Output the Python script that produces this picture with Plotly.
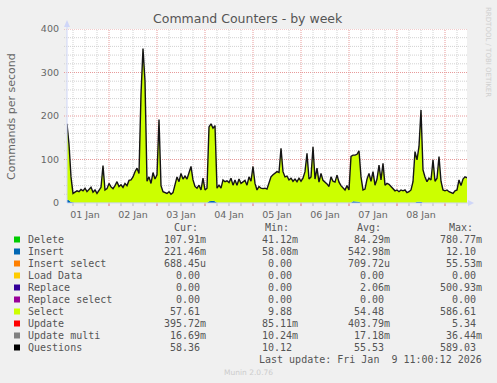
import plotly.graph_objects as go
import pandas as pd

# ---------------- data ----------------
start = "2026-01-01 03:00"
end = "2026-01-09 11:00"
times = pd.date_range(start, end, freq="1h")  # 201 hourly samples

questions = [
    182, 135, 60, 22, 25, 28, 26, 31, 28, 34,
    26, 30, 36, 25, 30, 22, 28, 36, 86, 30,
    33, 45, 37, 33, 40, 49, 38, 42, 36, 45,
    40, 52, 53, 60, 72, 80, 68, 250, 355, 280,
    50, 60, 45, 70, 55, 65, 192, 40, 26, 24,
    22, 26, 20, 24, 40, 60, 49, 68, 55, 62,
    55, 70, 84, 53, 38, 34, 41, 30, 57, 30,
    34, 175, 182, 172, 178, 34, 41, 34, 53, 49,
    51, 47, 57, 41, 53, 41, 55, 45, 48, 52,
    41, 60, 50, 84, 45, 30, 38, 34, 33, 34,
    32, 45, 60, 65, 68, 72, 70, 126, 72, 60,
    62, 53, 57, 50, 55, 49, 57, 50, 57, 72,
    114, 55, 60, 129, 55, 80, 48, 68, 52, 49,
    44, 38, 60, 50, 48, 64, 48, 40, 34, 30,
    40, 30, 107, 110, 110, 112, 120, 60, 30, 32,
    55, 68, 50, 72, 41, 55, 87, 53, 91, 41,
    45, 43, 38, 34, 28, 30, 26, 30, 28, 30,
    24, 26, 30, 49, 118, 99, 130, 214, 76, 60,
    49, 57, 53, 99, 50, 57, 107, 50, 30, 28,
    30, 26, 24, 22, 28, 30, 53, 40, 55, 60,
    58,
]

select = [
    173, 128, 56, 21, 24, 27, 25, 30, 27, 33,
    25, 29, 35, 24, 29, 21, 27, 35, 85, 29,
    32, 44, 36, 32, 39, 48, 37, 41, 35, 44,
    39, 51, 52, 59, 71, 79, 67, 249, 354, 279,
    49, 59, 44, 69, 54, 64, 191, 39, 25, 23,
    21, 25, 19, 23, 39, 59, 48, 67, 54, 61,
    54, 69, 83, 52, 37, 33, 40, 29, 56, 29,
    33, 170, 176, 166, 173, 33, 40, 33, 52, 48,
    50, 46, 56, 40, 52, 40, 54, 44, 47, 51,
    40, 59, 49, 83, 44, 29, 37, 33, 32, 33,
    31, 44, 59, 64, 67, 71, 69, 125, 71, 59,
    61, 52, 56, 49, 54, 48, 56, 49, 56, 71,
    113, 54, 59, 128, 54, 79, 47, 67, 51, 48,
    43, 37, 59, 49, 47, 63, 47, 39, 33, 29,
    39, 29, 106, 105, 105, 107, 116, 59, 29, 31,
    54, 67, 49, 71, 40, 54, 86, 52, 90, 40,
    44, 42, 37, 33, 27, 29, 25, 29, 27, 29,
    23, 25, 29, 48, 117, 95, 126, 210, 75, 59,
    48, 56, 52, 98, 49, 56, 106, 49, 29, 27,
    29, 25, 23, 21, 27, 29, 52, 39, 54, 59,
    57,
]

insert = [
    8, 6, 2, 0.4, 0.4, 0.4, 0.4, 0.4, 0.4, 0.4,
    0.4, 0.4, 0.4, 0.4, 0.4, 0.4, 0.4, 0.4, 0.4, 0.4,
    0.4, 0.4, 0.4, 0.4, 0.4, 0.4, 0.4, 0.4, 0.4, 0.4,
    0.4, 0.4, 0.4, 0.4, 0.4, 0.4, 0.4, 0.4, 0.4, 0.4,
    0.4, 0.4, 0.4, 0.4, 0.4, 0.4, 0.4, 0.4, 0.4, 0.4,
    0.4, 0.4, 0.4, 0.4, 0.4, 0.4, 0.4, 0.4, 0.4, 0.4,
    0.4, 0.4, 0.4, 0.4, 0.4, 0.4, 0.4, 0.4, 0.4, 0.4,
    0.4, 4, 5, 5, 4, 0.4, 0.4, 0.4, 0.4, 0.4,
    0.4, 0.4, 0.4, 0.4, 0.4, 0.4, 0.4, 0.4, 0.4, 0.4,
    0.4, 0.4, 0.4, 0.4, 0.4, 0.4, 0.4, 0.4, 0.4, 0.4,
    0.4, 0.4, 0.4, 0.4, 0.4, 0.4, 0.4, 0.4, 0.4, 0.4,
    0.4, 0.4, 0.4, 0.4, 0.4, 0.4, 0.4, 0.4, 0.4, 0.4,
    0.4, 0.4, 0.4, 0.4, 0.4, 0.4, 0.4, 0.4, 0.4, 0.4,
    0.4, 0.4, 0.4, 0.4, 0.4, 0.4, 0.4, 0.4, 0.4, 0.4,
    0.4, 0.4, 0.4, 4, 4, 4, 3, 0.4, 0.4, 0.4,
    0.4, 0.4, 0.4, 0.4, 0.4, 0.4, 0.4, 0.4, 0.4, 0.4,
    0.4, 0.4, 0.4, 0.4, 0.4, 0.4, 0.4, 0.4, 0.4, 0.4,
    0.4, 0.4, 0.4, 0.4, 0.4, 3, 3, 3, 0.4, 0.4,
    0.4, 0.4, 0.4, 0.4, 0.4, 0.4, 0.4, 0.4, 0.4, 0.4,
    0.4, 0.4, 0.4, 0.4, 0.4, 0.4, 0.4, 0.4, 0.4, 0.4,
    0.2,
]

delete = [0.08] * len(times)
update = [0.4] * len(times)
update_multi = [0.017] * len(times)
zeros = [0.0] * len(times)

series_names = ["Delete", "Insert", "Insert select", "Load Data", "Replace",
                "Replace select", "Select", "Update", "Update multi", "Questions"]
series_colors = ["#00CC00", "#0066B3", "#FF8000", "#FFCC00", "#330099",
                 "#990099", "#CCFF00", "#FF0000", "#808080", "#000000"]
stat_cur = ["107.91m", "221.46m", "688.45u", "0.00", "0.00", "0.00", "57.61", "395.72m", "16.69m", "58.36"]
stat_min = ["41.12m", "58.08m", "0.00", "0.00", "0.00", "0.00", "9.88", "85.11m", "10.24m", "10.12"]
stat_avg = ["84.29m", "542.98m", "709.72u", "0.00", "2.06m", "0.00", "54.48", "403.79m", "17.18m", "55.53"]
stat_max = ["780.77m", "12.10", "55.53m", "0.00", "500.93m", "0.00", "586.61", "5.34", "36.44m", "589.03"]

day_labels = ["01 Jan", "02 Jan", "03 Jan", "04 Jan", "05 Jan", "06 Jan", "07 Jan", "08 Jan"]
day_noons = pd.date_range("2026-01-01 12:00", periods=8, freq="D")
y_ticks = [0, 100, 200, 300, 400]

# ---------------- figure ----------------
W, H = 497, 383
L, R, T, B = 67, 30, 29, 180
PW, PH = W - L - R, H - T - B
FONT = "#666666"


def px(x):
    return (x - L) / PW


def py(y):
    return (H - B - y) / PH


stack_values = [delete, insert, zeros, zeros, zeros, zeros, select, update, update_multi]

fig = go.Figure()
for name, color, vals in zip(series_names[:-1], series_colors[:-1], stack_values):
    fig.add_trace(go.Scatter(
        x=times, y=vals, name=name, stackgroup="one", mode="lines",
        line=dict(width=0, color=color), fillcolor=color, hoverinfo="skip",
    ))
fig.add_trace(go.Scatter(
    x=times, y=questions, name="Questions", mode="lines",
    line=dict(width=1.4, color="#151515"), hoverinfo="skip",
))

shapes = []
# horizontal grid
for v in range(20, 401, 20):
    major = v % 100 == 0
    shapes.append(dict(type="line", xref="paper", yref="y", x0=px(64), x1=1, y0=v, y1=v,
                       line=dict(color="#E89A9A" if major else "#D2D2D2", width=1, dash="1px,1px"),
                       layer="below"))
# vertical grid
for t in pd.date_range("2026-01-01 06:00", "2026-01-09 06:00", freq="6h"):
    major = t.hour == 0
    col = "#E89A9A" if major else "#D2D2D2"
    shapes.append(dict(type="line", xref="x", yref="paper", x0=t, x1=t, y0=0, y1=1,
                       line=dict(color=col, width=1, dash="1px,1px"), layer="below"))
    shapes.append(dict(type="line", xref="x", yref="paper", x0=t, x1=t, y0=py(206), y1=0,
                       line=dict(color="#E07070" if major else "#BBBBBB", width=1), layer="above"))
# axes + arrows
AX = "#CFD6F8"
shapes.append(dict(type="line", xref="paper", yref="paper", x0=px(67), x1=px(67), y0=0, y1=py(25),
                   line=dict(color=AX, width=1), layer="above"))
shapes.append(dict(type="line", xref="paper", yref="paper", x0=0, x1=px(469), y0=0, y1=0,
                   line=dict(color=AX, width=1), layer="above"))
shapes.append(dict(type="path", xref="paper", yref="paper",
                   path=f"M {px(64)} {py(27)} L {px(70)} {py(27)} L {px(67)} {py(20)} Z",
                   fillcolor=AX, line=dict(color=AX, width=0), layer="above"))
shapes.append(dict(type="path", xref="paper", yref="paper",
                   path=f"M {px(468)} {py(200)} L {px(468)} {py(206)} L {px(474)} {py(203)} Z",
                   fillcolor=AX, line=dict(color=AX, width=0), layer="above"))

annotations = []
annotations.append(dict(text="Command Counters - by week", xref="paper", yref="paper",
                        x=px(248), y=py(19), xanchor="center", yanchor="middle", showarrow=False,
                        font=dict(family="DejaVu Sans", size=12.5, color="#555555")))
annotations.append(dict(text="Commands per second", xref="paper", yref="paper",
                        x=px(11), y=py(116), xanchor="center", yanchor="middle", showarrow=False,
                        textangle=-90, font=dict(family="DejaVu Sans", size=11, color=FONT)))
annotations.append(dict(text="RRDTOOL / TOBI OETIKER", xref="paper", yref="paper",
                        x=px(488), y=py(5), xanchor="center", yanchor="top", showarrow=False,
                        textangle=90, font=dict(family="DejaVu Sans", size=7, color="#CFCFCF")))

MONO = "DejaVu Sans Mono"
LEG = "#555555"
hdr_y = 227.3
for label, xpos in zip(["Cur:", "Min:", "Avg:", "Max:"], [172, 263, 355, 447]):
    annotations.append(dict(text=label, xref="paper", yref="paper", x=px(xpos), y=py(hdr_y),
                            xanchor="left", yanchor="middle", showarrow=False,
                            font=dict(family=MONO, size=10, color=LEG)))


def fmt(v):
    return v if v[-1] in "mu" else v + "\u00a0"


for i, name in enumerate(series_names):
    yc = 239.5 + 12 * i
    shapes.append(dict(type="rect", xref="paper", yref="paper", x0=px(14), x1=px(20),
                       y0=py(yc - 3), y1=py(yc + 3), fillcolor=series_colors[i],
                       line=dict(width=0), layer="above"))
    annotations.append(dict(text=name, xref="paper", yref="paper", x=px(25.5), y=py(yc),
                            xanchor="left", yanchor="middle", showarrow=False,
                            font=dict(family=MONO, size=10, color=LEG)))
    for vals, xr in zip([stat_cur, stat_min, stat_avg, stat_max], [208, 299.5, 391.5, 483.5]):
        annotations.append(dict(text=fmt(vals[i]), xref="paper", yref="paper", x=px(xr), y=py(yc),
                                xanchor="right", yanchor="middle", showarrow=False,
                                font=dict(family=MONO, size=10, color=LEG)))

annotations.append(dict(text="Last update: Fri Jan\u00a0\u00a09 11:00:12 2026", xref="paper", yref="paper",
                        x=px(483.5), y=py(359.7), xanchor="right", yanchor="middle", showarrow=False,
                        font=dict(family=MONO, size=10, color=LEG)))
annotations.append(dict(text="Munin 2.0.76", xref="paper", yref="paper",
                        x=px(248), y=py(372), xanchor="center", yanchor="middle", showarrow=False,
                        font=dict(family="DejaVu Sans", size=7.5, color="#CCCCCC")))

fig.update_layout(
    width=W, height=H,
    margin=dict(l=L, r=R, t=T, b=B, pad=0),
    paper_bgcolor="#F0F0F0", plot_bgcolor="#FFFFFF",
    showlegend=False,
    shapes=shapes, annotations=annotations,
    xaxis=dict(type="date", range=[start, end], tickvals=day_noons, ticktext=day_labels,
               showgrid=False, zeroline=False, showline=False, ticks="",
               tickfont=dict(family="DejaVu Sans", size=9.5, color=FONT), ticklabelstandoff=4),
    yaxis=dict(range=[0, 400], tickvals=y_ticks, ticktext=[str(v) for v in y_ticks],
               showgrid=False, zeroline=False, showline=False, ticks="",
               tickfont=dict(family="DejaVu Sans", size=9.5, color=FONT), ticklabelstandoff=7),
)

fig.write_html("out.html")
